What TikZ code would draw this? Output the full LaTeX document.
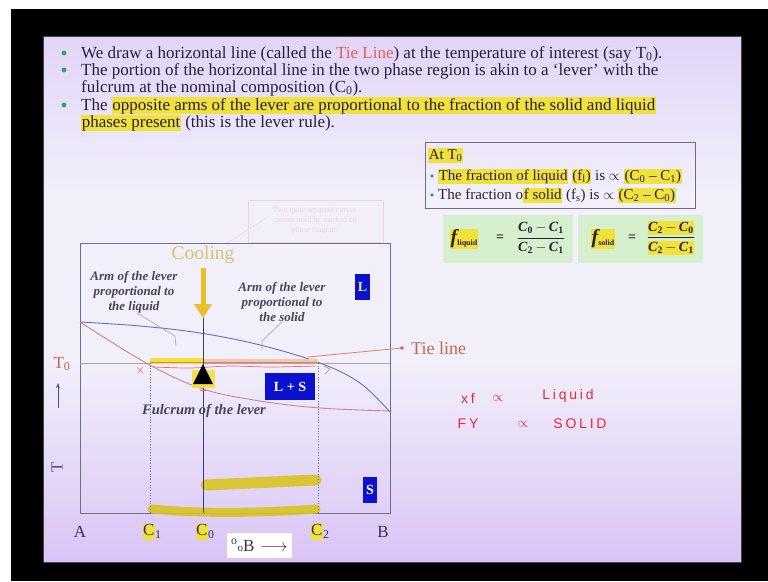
\documentclass[tikz,border=0pt]{standalone}
\usepackage{fontspec}
\setmainfont{Liberation Serif}
\newfontfamily\handfont[LetterSpace=20]{Liberation Sans}
\usepackage{amsmath}
\usetikzlibrary{arrows.meta}

\definecolor{bgtop}{HTML}{C8A6F0}
\definecolor{bgup}{HTML}{DCCCF6}
\definecolor{bgmid}{HTML}{F1EFFA}
\definecolor{bglow}{HTML}{DAC4F6}
\definecolor{bgbot}{HTML}{BC8CF0}
\pgfdeclareverticalshading{slidebg}{100bp}{color(0bp)=(bgbot); color(25bp)=(bglow); color(44bp)=(bgmid); color(60bp)=(bgmid); color(80bp)=(bgup); color(100bp)=(bgtop)}

\definecolor{txt}{HTML}{2A1E3A}
\definecolor{hly}{HTML}{F0E23A}
\definecolor{tiered}{HTML}{E0605A}
\definecolor{bullg}{HTML}{2AA86A}
\definecolor{lsblue}{HTML}{0A12D0}
\definecolor{liqblue}{HTML}{6070C8}
\definecolor{solpink}{HTML}{C88888}
\definecolor{tieor}{HTML}{E08060}
\definecolor{peach}{HTML}{F2C8A8}
\definecolor{coolc}{HTML}{D4C66E}
\definecolor{coolarrow}{HTML}{E8C028}
\definecolor{greenbox}{HTML}{D6F0CE}
\definecolor{boxline}{HTML}{7A6878}
\definecolor{brownc}{HTML}{C06848}
\definecolor{handred}{HTML}{E8283A}
\definecolor{armgray}{HTML}{4A4456}
\definecolor{axisc}{HTML}{5A4A9A}
\definecolor{framec}{HTML}{707084}
\definecolor{dotc}{HTML}{6A6A9A}
\definecolor{c0c}{HTML}{3A3A80}
\definecolor{strokey}{HTML}{D8C420}
\definecolor{faintc}{HTML}{EED6E0}
\definecolor{lblc}{HTML}{3C3450}
\definecolor{Lyel}{HTML}{E8E870}

\newcommand\hly[1]{{\setlength{\fboxsep}{0.6pt}\colorbox{hly}{\rule[-0.22em]{0pt}{0.9em}#1}}}
\newcommand\Cm[1]{\textbf{\textit{C}}\textsubscript{\bfseries#1}}

\tikzset{
 mtxt/.style={anchor=base west, inner sep=0pt, text=txt, font=\fontsize{17}{17}\selectfont},
 btxt/.style={anchor=base west, inner sep=0pt, text=txt, font=\fontsize{15}{17}\selectfont},
 armtxt/.style={align=center, inner sep=0pt, text=armgray, font=\fontsize{13}{15}\selectfont\bfseries\itshape},
 phasebox/.style={fill=lsblue, inner sep=0pt, text=white, font=\fontsize{14}{16}\selectfont\bfseries},
 hlstroke/.style={line cap=round, draw=strokey, opacity=0.9},
 dotv/.style={draw=dotc, dotted, line width=0.7pt},
 hand/.style={text=handred, font=\handfont\fontsize{14}{16}\selectfont, inner sep=0pt},
 lbl/.style={text=lblc, font=\fontsize{17}{19}\selectfont, inner sep=0pt},
 callout/.style={draw=gray!70, line width=0.6pt},
 fbox/.style={fill=greenbox, draw=none},
 ftxt/.style={inner sep=0pt, text=txt, font=\fontsize{14}{16}\selectfont\bfseries},
}

\begin{document}
\begin{tikzpicture}[x=1pt,y=-1pt]
\useasboundingbox (0,0) rectangle (768,581);
\fill[black] (0,0) rectangle (768,581);
\fill[white] (0,0) rectangle (768,9);
\fill[white] (0,0) rectangle (11,581);
\shade[shading=slidebg] (43,36) rectangle (741,562);
\draw[framec!60!black, line width=0.8pt] (43,36) rectangle (741,562);

% ---- top bullets
\fill[bullg] (64,53) circle (2.4);
\fill[bullg] (64,70) circle (2.4);
\fill[bullg] (64,105) circle (2.4);
\node[mtxt] (l1) at (81,58) {We draw a horizontal line (called the \textcolor{tiered}{Tie Line}) at the temperature of interest (say T\textsubscript{0}).};
\node[mtxt] (l2) at (81,75) {The portion of the horizontal line in the two phase region is akin to a `lever' with the};
\node[mtxt] (l3) at (81,92) {fulcrum at the nominal composition (C\textsubscript{0}).};
\node[mtxt] (l4) at (81,110) {The \hly{opposite arms of the lever are proportional to the fraction of the solid and liquid}};
\node[mtxt] (l5) at (81,127) {\hly{phases present} (this is the lever rule).};

% ---- At T0 box
\draw[boxline, line width=0.8pt] (425,142) rectangle (695,208);
\node[btxt] (at0) at (428,159) {\hly{At T\textsubscript{0}}};
\fill[bullg] (432,176) circle (1.9);
\fill[bullg] (432,195) circle (1.9);
\node[btxt] (fl) at (438,180) {\hly{The fraction of liquid} \hly{(f\textsubscript{l})} is $\propto$ \hly{(C\textsubscript{0} -- C\textsubscript{1})}};
\node[btxt] (fs) at (438,199) {The fraction o\hly{f solid} (f\textsubscript{s}) is $\propto$ \hly{(C\textsubscript{2} -- C\textsubscript{0})}};

% ---- formula boxes
\fill[fbox] (443,215) rectangle (573,263);
\fill[fbox] (578,215) rectangle (703,263);
\node[ftxt] (fliq) at (464,239) {\hly{{\fontsize{20}{20}\selectfont\itshape f}\raisebox{-2pt}{\fontsize{8}{8}\selectfont liquid}}};
\node[ftxt] (eq1) at (500,238) {=};
\node[ftxt] (frac1) at (541,238) {$\dfrac{\text{\bfseries\Cm{0}\,$-$\,\Cm{1}}}{\text{\bfseries\Cm{2}\,$-$\,\Cm{1}}}$};
\node[ftxt] (fsol) at (603,239) {\hly{{\fontsize{20}{20}\selectfont\itshape f}\raisebox{-2pt}{\fontsize{8}{8}\selectfont solid}}};
\node[ftxt] (eq2) at (632,238) {=};
\node[ftxt] (frac2) at (671,238) {$\dfrac{\text{\bfseries\hly{\Cm{2}\,$-$\,\Cm{0}}}}{\text{\bfseries\hly{\Cm{2}\,$-$\,\Cm{1}}}}$};

% ---- faint callout
\draw[faintc, line width=0.6pt] (248,200) rectangle (383,242);
\node[text=faintc, font=\fontsize{8}{10}\selectfont, align=center] (faint) at (315,221) {Two quite separate curves\\cannot need be marked on\\phase diagram};
\coordinate (faintend) at (227,243);
\draw[faintc, line width=0.6pt] (faint.west) ++(-3pt,3pt) -- (faintend);

% ---- diagram frame
\draw[framec, line width=0.9pt] (80,243) rectangle (390,513);

% highlight strokes
\draw[hlstroke, line width=11pt] (206,485) -- (316,480);
\draw[hlstroke, line width=9pt] (152,509) .. controls (200,514) and (260,513) .. (316,509);

% T0 line
\draw[gray!70, line width=0.6pt] (80,363) -- (390,363);

% curves
\draw[liqblue, line width=0.9pt] plot[smooth, tension=0.6] coordinates {(80,322) (140,326) (200,333) (260,345) (320,363) (360,383) (390,412)};
\draw[solpink, line width=0.9pt] plot[smooth, tension=0.6] coordinates {(80,322) (148,364) (203,389) (260,401) (320,408) (390,411)};

% lever arms
\draw[peach, line width=4pt] (150,361) -- (318,361);
\draw[hly, line width=6pt] (150,361) -- (203,361);
\draw[tieor, line width=0.8pt] (150,362) -- (318,362);
\draw[handred!70, line width=0.7pt] plot[smooth] coordinates {(154,367) (190,368) (230,366) (270,367) (316,366)};
\draw[handred!60, line width=0.7pt] (137,367) -- (143,373) (143,367) -- (138,373);
\draw[handred!60, line width=0.7pt] (324,366) -- (330,369) -- (325,374);

% verticals
\coordinate (arrowtip) at (203,318);
\coordinate (c0bot) at (203,513);
\coordinate (c1top) at (150,363);
\coordinate (c1bot) at (150,513);
\coordinate (c2top) at (318,363);
\coordinate (c2bot) at (318,513);
\draw[c0c, line width=0.7pt] (arrowtip) -- (c0bot);
\draw[dotv] (c1top) -- (c1bot);
\draw[dotv] (c2top) -- (c2bot);

% cooling
\node[text=coolc, font=\fontsize{19.5}{21}\selectfont, inner sep=0pt] (cool) at (203,255) {Cooling};
\draw[-{Triangle[width=17pt,length=14pt]}, line width=5pt, draw=coolarrow, fill=coolarrow] ([yshift=-4pt]cool.south) -- (arrowtip);

% fulcrum
\fill[hly, opacity=0.9] (192,370) rectangle (215,388);
\fill[black] (203,364) -- (193,384) -- (213,384) -- cycle;
\draw[handred!70, line width=0.7pt] (200,390) -- (206,390);
\node[armtxt, font=\fontsize{14.5}{16}\selectfont\bfseries\itshape] (fulc) at (204,411) {Fulcrum of the lever};

% arm texts
\node[armtxt] (armL) at (134,292) {Arm of the lever\\proportional to\\the liquid};
\node[armtxt] (armR) at (282,302) {Arm of the lever\\proportional to\\the solid};
\coordinate (armLend) at (176,346);
\coordinate (armRend) at (262,350);
\draw[callout] ([xshift=3pt]armL.south) -- (175,336) -- (armLend);
\draw[callout] (armR.south) -- (262,341) -- (armRend);

% tie line label
\node[lbl, text=brownc, anchor=west, font=\fontsize{18}{20}\selectfont] (tie) at (411,348) {Tie line};
\coordinate (tiestart) at (308,357);
\draw[tieor, line width=0.8pt] (tiestart) -- ([xshift=-9pt]tie.west) coordinate (tiedot);
\fill[tieor!80!black] (tiedot) circle (1.8);

% phase boxes
\node[phasebox, text=Lyel, minimum width=15pt, minimum height=26pt] (Lb) at (362.5,287) {L};
\node[phasebox, minimum width=50pt, minimum height=27pt] (LSb) at (290,386.5) {L + S};
\node[phasebox, minimum width=14pt, minimum height=26pt] (Sb) at (370,490) {S};

% axis labels
\node[lbl, text=brownc] (T0) at (62,364) {T\textsubscript{0}};
\coordinate (tarrtop) at (58,383);
\coordinate (tarrbot) at (58,408);
\draw[axisc, line width=1pt, -{Stealth[length=5pt,width=4pt]}] (tarrbot) -- (tarrtop);
\node[lbl, text=axisc, rotate=90] (Tax) at (57,467) {T};
\node[lbl] (A) at (80,532) {A};
\node[lbl] (B) at (383,532) {B};
\node[lbl] (C1) at (152,532) {\hly{C}\textsubscript{1}};
\node[lbl] (C0) at (205,532) {\hly{C}\textsubscript{0}};
\node[lbl] (C2) at (320,532) {\hly{C}\textsubscript{2}};
\node[lbl, fill=white, minimum width=65pt, minimum height=25pt] (pctB) at (259.5,545.5) {\textsuperscript{o}\raisebox{-0.5pt}{\fontsize{11}{11}\selectfont o}B\,\,$\longrightarrow$};

% handwriting
\node[hand] (xf) at (468,398) {xf};
\node[hand] (pr1) at (498,398) {$\propto$};
\node[hand] (liq) at (568,396) {Liquid};
\node[hand] (fy) at (468,424) {FY};
\node[hand] (pr2) at (523,424) {$\propto$};
\node[hand] (sol) at (580,424) {SOLID};
\end{tikzpicture}
\end{document}
